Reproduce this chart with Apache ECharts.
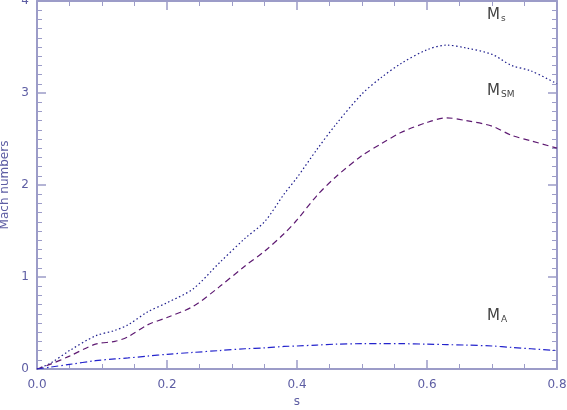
<!DOCTYPE html>
<html>
<head>
<meta charset="utf-8">
<script src="https://cdn.jsdelivr.net/npm/echarts@6/dist/echarts.min.js"></script>
<style>
  html, body { margin: 0; padding: 0; background: #fff; }
  #chart { width: 567px; height: 410px; }
</style>
</head>
<body>
<div id="chart"></div>
<script>
// distance along s
var sVals = [0, 0.02, 0.05, 0.09, 0.12, 0.14, 0.17, 0.2, 0.24, 0.28, 0.32, 0.35, 0.38, 0.4, 0.43,
             0.46, 0.5, 0.53, 0.56, 0.6, 0.63, 0.66, 0.7, 0.73, 0.76, 0.8];
var machS  = [0, 0.06, 0.2, 0.36, 0.42, 0.48, 0.62, 0.72, 0.87, 1.15, 1.42, 1.6, 1.9, 2.08, 2.38,
              2.66, 2.99, 3.17, 3.32, 3.47, 3.52, 3.49, 3.42, 3.3, 3.24, 3.1];
var machSM = [0, 0.05, 0.14, 0.27, 0.3, 0.35, 0.48, 0.56, 0.68, 0.89, 1.12, 1.28, 1.47, 1.62, 1.88,
              2.09, 2.32, 2.45, 2.57, 2.68, 2.73, 2.7, 2.64, 2.54, 2.48, 2.4];
var machA  = [0, 0.02, 0.05, 0.09, 0.11, 0.12, 0.14, 0.16, 0.18, 0.2, 0.22, 0.23, 0.245, 0.25, 0.26,
              0.27, 0.275, 0.275, 0.275, 0.27, 0.265, 0.26, 0.25, 0.235, 0.22, 0.2];

var axisCol = '#9c9cc8';
var labelCol = '#5d5da3';

function pairs(ys) {
    return sVals.map(function (s, i) { return [s, ys[i]]; });
}

var myChart = echarts.init(document.getElementById('chart'));

var xBase = {
    type: 'value',
    min: 0,
    max: 0.8,
    interval: 0.2,
    axisLine: {show: true, onZero: false, lineStyle: {color: axisCol, width: 2}},
    axisTick: {show: true, inside: true, length: 9, lineStyle: {color: axisCol, width: 1.5}},
    minorTick: {show: true, splitNumber: 4, length: 5, lineStyle: {color: axisCol, width: 1}},
    splitLine: {show: false}
};
var yBase = {
    type: 'value',
    min: 0,
    max: 4,
    interval: 1,
    axisLine: {show: true, onZero: false, lineStyle: {color: axisCol, width: 2}},
    axisTick: {show: true, inside: true, length: 9, lineStyle: {color: axisCol, width: 1.5}},
    minorTick: {show: true, splitNumber: 10, length: 5, lineStyle: {color: axisCol, width: 1}},
    splitLine: {show: false}
};

var subRich = {
    m: {fontSize: 15, fontFamily: 'DejaVu Sans', fill: '#444', verticalAlign: 'bottom'},
    sub: {fontSize: 9, fontFamily: 'DejaVu Sans', fill: '#444', verticalAlign: 'bottom', padding: [0, 0, 0, 1]}
};

var option = {
    backgroundColor: '#fff',
    animation: false,
    grid: {left: 37, right: 10, top: 1, bottom: 41, outerBoundsMode: 'none', containLabel: false},
    xAxis: [
        Object.assign({}, xBase, {
            position: 'bottom',
            name: 's',
            nameLocation: 'middle',
            nameGap: 26,
            nameTextStyle: {color: labelCol, fontSize: 12, fontFamily: 'DejaVu Sans'},
            axisLabel: {
                color: labelCol, fontSize: 12, fontFamily: 'DejaVu Sans', margin: 10,
                formatter: function (v) { return v.toFixed(1); }
            }
        }),
        Object.assign({}, xBase, {position: 'top', axisLabel: {show: false}})
    ],
    yAxis: [
        Object.assign({}, yBase, {
            position: 'left',
            name: 'Mach numbers',
            nameLocation: 'middle',
            nameGap: 22,
            nameTextStyle: {color: labelCol, fontSize: 12, fontFamily: 'DejaVu Sans'},
            axisLabel: {color: labelCol, fontSize: 12, fontFamily: 'DejaVu Sans', margin: 8}
        }),
        Object.assign({}, yBase, {position: 'right', axisLabel: {show: false}})
    ],
    series: [
        {
            name: 'Ms',
            type: 'line',
            data: pairs(machS),
            showSymbol: false,
            smooth: 0.3,
            lineStyle: {color: '#1c1c8c', width: 1.2, type: [1.5, 2.5]}
        },
        {
            name: 'MSM',
            type: 'line',
            data: pairs(machSM),
            showSymbol: false,
            smooth: 0.3,
            lineStyle: {color: '#5e1a72', width: 1.2, type: [6, 4]}
        },
        {
            name: 'MA',
            type: 'line',
            data: pairs(machA),
            showSymbol: false,
            smooth: 0.3,
            lineStyle: {color: '#2323cc', width: 1.2, type: [7, 3, 1.5, 3]}
        }
    ],
    graphic: [
        {type: 'text', left: 487, top: 8, style: {text: '{m|M}{sub|s}', rich: subRich}},
        {type: 'text', left: 487, top: 84, style: {text: '{m|M}{sub|SM}', rich: subRich}},
        {type: 'text', left: 487, top: 309, style: {text: '{m|M}{sub|A}', rich: subRich}}
    ]
};

myChart.setOption(option);
</script>
</body>
</html>
